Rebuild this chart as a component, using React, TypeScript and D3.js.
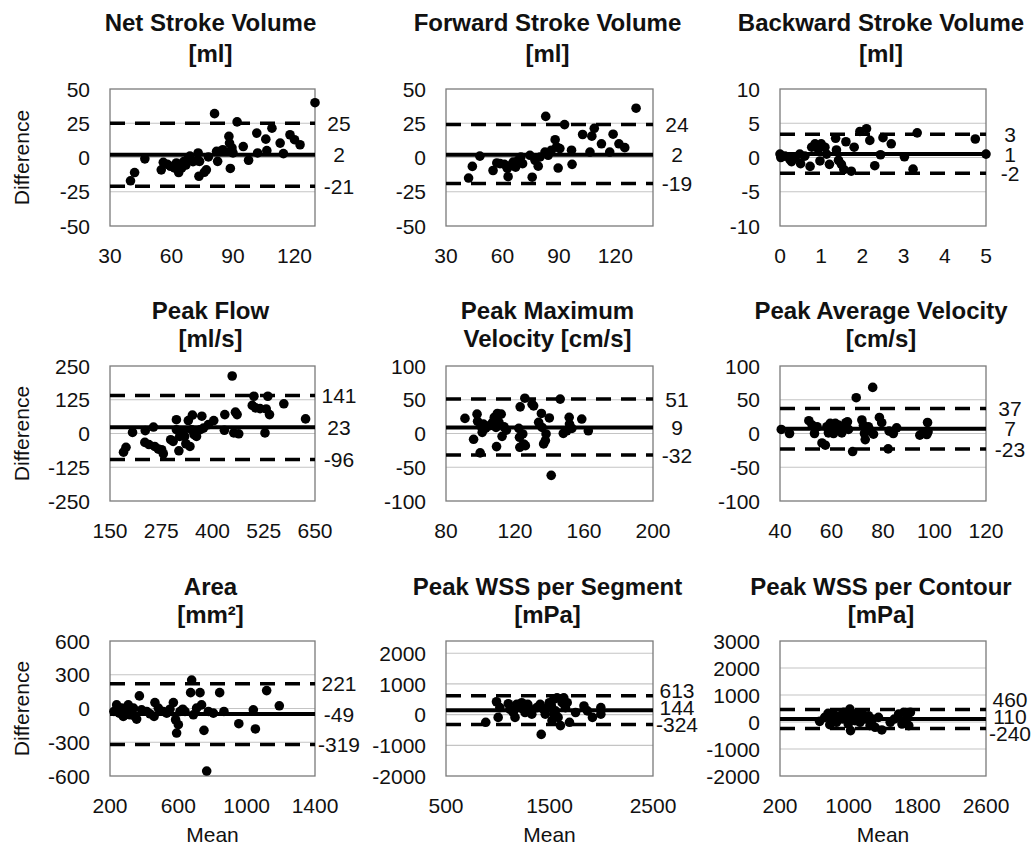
import React, { useEffect, useRef } from 'react';
import * as d3 from 'd3';

// Bland-Altman panels
const titles = [
  ['Net Stroke Volume', '[ml]'],
  ['Forward Stroke Volume', '[ml]'],
  ['Backward Stroke Volume', '[ml]'],
  ['Peak Flow', '[ml/s]'],
  ['Peak Maximum', 'Velocity [cm/s]'],
  ['Peak Average Velocity', '[cm/s]'],
  ['Area', '[mm²]'],
  ['Peak WSS per Segment', '[mPa]'],
  ['Peak WSS per Contour', '[mPa]'],
];

const xDomains = [[30, 130], [30, 140], [0, 5], [150, 650], [80, 200], [40, 120], [200, 1400], [500, 2500], [200, 2600]];
const xTicks = [
  [30, 60, 90, 120], [30, 60, 90, 120], [0, 1, 2, 3, 4, 5],
  [150, 275, 400, 525, 650], [80, 120, 160, 200], [40, 60, 80, 100, 120],
  [200, 600, 1000, 1400], [500, 1500, 2500], [200, 1000, 1800, 2600],
];
const yDomains = [[-50, 50], [-50, 50], [-10, 10], [-250, 250], [-100, 100], [-100, 100], [-600, 600], [-2000, 2400], [-2000, 3000]];
const yTicks = [
  [-50, -25, 0, 25, 50], [-50, -25, 0, 25, 50], [-10, -5, 0, 5, 10],
  [-250, -125, 0, 125, 250], [-100, -50, 0, 50, 100], [-100, -50, 0, 50, 100],
  [-600, -300, 0, 300, 600], [-2000, -1000, 0, 1000, 2000], [-2000, -1000, 0, 1000, 2000, 3000],
];

// upper limit, mean difference, lower limit
const limits = [[25, 2, -21], [24, 2, -19], [3.4, 0.5, -2.3], [141, 23, -96], [51, 9, -32], [37, 7, -23], [221, -49, -319], [613, 144, -324], [460, 110, -240]];
const limitLabels = [
  ['25', '2', '-21'], ['24', '2', '-19'], ['3', '1', '-2'],
  ['141', '23', '-96'], ['51', '9', '-32'], ['37', '7', '-23'],
  ['221', '-49', '-319'], ['613', '144', '-324'], ['460', '110', '-240'],
];

// [mean, difference]
const netSV = [[130, 40], [81, 32], [92, 26], [40, -17], [42, -11], [47, -1], [55, -9], [56, -3.5], [58, -5], [59.5, -6.4], [61.4, -7.6], [62.4, -4], [63.5, -11], [65, -7.6], [66, -3], [67, -5.5], [68, -1], [69, 1], [70.5, -3], [72.5, -2.3], [73, 3.3], [73.7, -2.8], [73.4, -13.7], [76, -10.8], [77, -9], [78, 0.4], [82.5, -2.8], [82, 4.5], [85, 5.7], [88, 15.4], [88.3, 10.5], [88.7, 4.5], [89.5, 7], [88.7, -8], [90, 3.3], [95, 8], [97.6, -2], [101.6, 17.8], [102, 3.3], [106, 13.4], [106.5, 5], [109, 21.4], [113, 10.5], [114.6, 2.8], [117.8, 16.6], [120, 13], [122.7, 9.3]];
const forwardSV = [[131, 36], [83, 30], [93, 24], [42, -15], [44, -6.5], [48, 1], [55, -9.5], [57, -4], [58.7, -4.5], [61, -5], [62.6, -8], [63, -14], [64.3, -5.8], [65.7, -3.3], [67, -7], [68.4, -2], [69.8, 0.4], [70.7, -4.5], [74.6, 1.6], [75.8, -14.4], [77.3, -2], [79, -6.3], [80, 0.4], [82.6, 4], [84.3, 1.6], [86, 5.3], [88, 13], [88.8, 7.7], [89.6, -7.7], [90.5, 6.5], [96.7, 5.3], [97, -5], [102.6, 16.8], [106.5, 4], [107.5, 15.6], [108.8, 21.3], [112.6, 10], [117, 4], [118.8, 17], [121.9, 10], [125, 7.2]];
const backwardSV = [[0, 0.5], [0.02, 0], [0.12, 0.2], [0.24, -0.3], [0.36, 0], [0.28, -0.6], [0.48, 0.5], [0.5, -0.9], [0.6, 0.2], [0.73, -1.3], [0.77, 1.5], [0.85, 2], [0.93, 1.2], [0.97, -0.5], [1.0, 2], [1.09, 1.5], [1.13, 0.5], [1.2, -1], [1.35, 2.8], [1.37, 1.1], [1.42, -0.4], [1.49, -1], [1.55, -1.75], [1.6, 2.3], [1.73, -2], [1.8, 1.5], [1.94, 3.8], [2.1, 4.2], [2.18, 2.5], [2.3, -1.2], [2.44, 0.4], [2.5, 2.9], [2.7, 2], [3.02, 0.1], [3.23, -1.7], [3.33, 3.6], [4.74, 2.7], [5.0, 0.5]];
const peakFlow = [[448, 213], [183, -69], [189, -51], [205, 4], [236, 10.5], [235, -33], [245, -41], [256, 24], [259, -48], [268, -58], [280, -75], [276, -60], [298, -23], [304, -29], [312, 51], [312, 14], [318, -64], [320, -11], [329, 8], [332, -11], [335, -38], [341, 48], [345, -48], [351, 68], [349, 14], [355, -4], [361, -11], [370, 14], [374, 64], [378, 20], [390, 33], [403, 48], [429, 12], [430, 70], [456, 79], [460, 70], [452, 2], [464, -1], [497, 104], [505, 95], [501, 138], [516, 92], [528, 2], [535, 138], [531, 91], [539, 70], [574, 110], [627, 54]];
const peakMaxVel = [[91, 22.4], [96, -8.6], [98, 28.7], [98.3, 18], [99.8, -28.7], [101, 1.7], [101.7, 14], [100.5, 10], [103, 8], [105, 11.5], [107, 16.5], [108, 24], [109, 9], [109.3, -19.4], [109.8, 29.7], [110.7, 16.5], [112, 28.7], [112.5, -4.2], [113.6, 10], [115, 5], [122.2, 7.6], [122.6, -5.6], [122.8, -20.4], [123, 39.5], [124.5, -0.7], [125, -15.5], [125.7, 52.3], [126, -18], [129.9, 43.5], [130.8, 41], [133.7, 16.5], [135.3, 29.7], [135.7, 9], [136.6, -15.5], [137.6, -10.5], [138, -0.7], [139.9, 23], [141, -62], [146.2, 51], [148, 0.2], [150, 4], [151.4, 24], [151.6, 14], [153, 7.6], [158.7, 21.4], [162.5, 4]];
const peakAvgVel = [[40.5, 6], [43.7, 0], [51.2, 19], [52.5, 12.4], [53.4, 0], [54.4, 10], [56.3, -14], [57.6, -17.3], [58.2, 10], [58.8, 1], [59.5, 15], [60, 7.4], [60.8, 0], [61.5, 15], [62, 5], [62.7, 12.4], [64, 1], [64.7, 10], [65.6, 16], [66.2, 17.3], [66.6, 6], [68.2, -26.7], [69.6, 53], [71.8, 20], [72.4, 12.4], [72.8, 0], [73.1, -9], [74.3, 10], [75, 5], [76.3, -1], [76, 68.3], [78.6, 23.8], [79.5, 16], [82.4, 3.5], [82, -22.8], [84, 0], [85.3, 8.4], [94.3, -2.5], [95.6, 2.5], [97.3, 16.3], [97.5, 2.5], [97, -1.5]];
const area = [[223, -26], [239, 32], [254, -41], [268, 3], [278, -70], [294, -12], [307, 32], [317, -56], [327, -26], [337, 3], [346, -70], [356, -94], [372, 112], [385, -12], [415, -26], [434, -47], [458, -70], [463, 53], [483, 3], [512, -26], [532, -41], [551, -6], [571, 53], [584, -100], [590, -218], [600, -144], [610, -26], [626, -6], [639, -26], [672, 141], [678, 253], [688, -56], [707, 3], [727, 141], [736, 32], [750, -194], [766, -556], [776, -26], [805, -41], [842, 141], [867, -26], [954, -135], [1039, -12], [1051, -182], [1117, 159], [1191, 24]];
const wssSegment = [[884, -250], [988, 420], [1004, -90], [1020, 229], [1102, 357], [1118, 176], [1150, 69], [1167, -90], [1183, 335], [1215, 229], [1232, 389], [1248, 176], [1264, 69], [1290, 335], [1313, 176], [1329, 16], [1378, 229], [1410, 335], [1420, -644], [1443, 176], [1459, 16], [1492, 229], [1498, 389], [1518, 282], [1524, -197], [1541, 495], [1541, 16], [1557, 122], [1573, 548], [1583, -90], [1606, -357], [1622, 389], [1638, 548], [1654, 229], [1671, 389], [1693, -250], [1752, 69], [1833, 282], [1866, 122], [1915, -90], [1996, 229], [1996, 16]];
const wssContour = [[662, 25], [721, 172], [760, 319], [780, -98], [811, 110], [827, 270], [858, -12], [897, 233], [929, 110], [944, 356], [975, 172], [995, -74], [1014, 479], [1022, -319], [1046, 233], [1073, 49], [1093, 319], [1112, 172], [1132, -12], [1163, 295], [1190, 110], [1230, 233], [1249, -135], [1280, 110], [1308, -197], [1347, 172], [1386, -295], [1484, -12], [1531, 110], [1582, 295], [1621, -74], [1641, 356], [1680, 172], [1700, -135], [1719, 356]];

const points = [netSV, forwardSV, backwardSV, peakFlow, peakMaxVel, peakAvgVel, area, wssSegment, wssContour];

const FONT = "'Liberation Sans', Arial, sans-serif";

const BlandAltmanGrid = () => {
  const ref = useRef(null);

  useEffect(() => {
    const svg = d3.select(ref.current);
    svg.selectAll('*').remove();

    const colLeft = [110, 446, 780];
    const colRight = [315, 653, 986];
    const rowTop = [89, 366, 641];
    const rowBottom = [226, 501, 776];
    const titleBase = [[31, 62], [319, 347], [595, 623]];

    points.forEach((pts, i) => {
      const col = i % 3;
      const row = Math.floor(i / 3);
      const x = d3.scaleLinear().domain(xDomains[i]).range([colLeft[col], colRight[col]]);
      const y = d3.scaleLinear().domain(yDomains[i]).range([rowBottom[row], rowTop[row]]);
      const g = svg.append('g');
      const [x0, x1] = x.range();

      // title
      titles[i].forEach((t, k) => {
        g.append('text')
          .attr('x', (x0 + x1) / 2 - 2)
          .attr('y', titleBase[row][k])
          .attr('text-anchor', 'middle')
          .attr('font-family', FONT)
          .attr('font-weight', 'bold')
          .attr('font-size', 24)
          .attr('fill', '#111')
          .text(t);
      });

      // gridlines
      const [d0, d1] = y.domain();
      g.selectAll('line.grid')
        .data(yTicks[i].filter(v => v !== d0 && v !== d1))
        .join('line')
        .attr('x1', x0).attr('x2', x1)
        .attr('y1', d => y(d)).attr('y2', d => y(d))
        .attr('stroke', '#c4c4c4')
        .attr('stroke-width', 1.2);

      // plot box
      g.append('rect')
        .attr('x', x0).attr('y', y.range()[1])
        .attr('width', x1 - x0).attr('height', y.range()[0] - y.range()[1])
        .attr('fill', 'none')
        .attr('stroke', '#7a7a7a')
        .attr('stroke-width', 1.3);

      // y tick labels
      g.selectAll('text.yt')
        .data(yTicks[i])
        .join('text')
        .attr('x', x0 - 20)
        .attr('y', d => y(d))
        .attr('dy', '0.36em')
        .attr('text-anchor', 'end')
        .attr('font-family', FONT)
        .attr('font-size', 21)
        .attr('fill', '#111')
        .text(d => d);

      // x tick labels
      g.selectAll('text.xt')
        .data(xTicks[i])
        .join('text')
        .attr('x', d => x(d))
        .attr('y', y.range()[0] + 37)
        .attr('text-anchor', 'middle')
        .attr('font-family', FONT)
        .attr('font-size', 21)
        .attr('fill', '#111')
        .text(d => d);

      // limits of agreement and mean
      const [up, mean, low] = limits[i];
      [up, low].forEach(v => {
        g.append('line')
          .attr('x1', x0).attr('x2', x1)
          .attr('y1', y(v)).attr('y2', y(v))
          .attr('stroke', '#000')
          .attr('stroke-width', 3.5)
          .attr('stroke-dasharray', '15,10');
      });
      g.append('line')
        .attr('x1', x0).attr('x2', x1)
        .attr('y1', y(mean)).attr('y2', y(mean))
        .attr('stroke', '#000')
        .attr('stroke-width', 4);

      // points
      g.selectAll('circle')
        .data(pts)
        .join('circle')
        .attr('cx', d => x(d[0]))
        .attr('cy', d => y(d[1]))
        .attr('r', 4.8)
        .attr('fill', '#000');

      // right-hand value labels, spread apart when the lines are close together
      const minGap = 17;
      const ly = limits[i].map(v => y(v));
      ly[1] -= ly[1] - ly[0] < minGap ? 3 : 0;
      if (ly[1] - ly[0] < minGap) ly[0] = ly[1] - minGap;
      if (ly[2] - ly[1] < minGap) ly[2] = ly[1] + minGap;
      g.selectAll('text.lim')
        .data(limitLabels[i])
        .join('text')
        .attr('x', x1 + 24)
        .attr('y', (d, k) => ly[k])
        .attr('dy', '0.36em')
        .attr('text-anchor', 'middle')
        .attr('font-family', FONT)
        .attr('font-size', 21)
        .attr('fill', '#111')
        .text(d => d);

      if (col === 0) {
        const cy = (y.range()[0] + y.range()[1]) / 2;
        g.append('text')
          .attr('transform', `translate(21,${cy}) rotate(-90)`)
          .attr('dy', '0.36em')
          .attr('text-anchor', 'middle')
          .attr('font-family', FONT)
          .attr('font-size', 21)
          .attr('fill', '#111')
          .text('Difference');
      }
      if (row === 2) {
        g.append('text')
          .attr('x', (x0 + x1) / 2)
          .attr('y', 842)
          .attr('text-anchor', 'middle')
          .attr('font-family', FONT)
          .attr('font-size', 21)
          .attr('fill', '#111')
          .text('Mean');
      }
    });
  }, []);

  return (
    <svg
      ref={ref}
      width={1035}
      height={845}
      style={{ position: 'absolute', left: 0, top: 0, background: '#fff' }}
    />
  );
};

export default function App() {
  return <BlandAltmanGrid />;
}
